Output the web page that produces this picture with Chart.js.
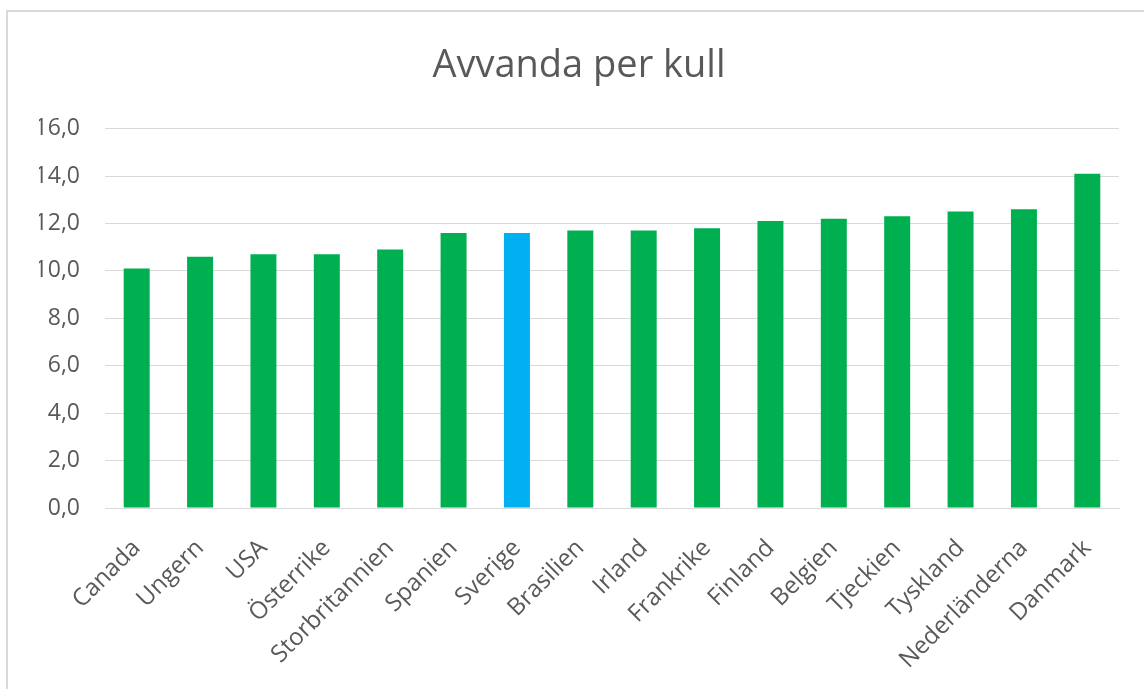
<!DOCTYPE html>
<html>
<head>
<meta charset="utf-8">
<script src="https://cdn.jsdelivr.net/npm/chart.js"></script>
<style>
  html, body { margin: 0; padding: 0; background: #fff; overflow: hidden; }
  #wrap { position: absolute; left: 0; top: 0; width: 1144px; height: 689px; }
  #frame { position: absolute; left: 6px; top: 10px; width: 1200px; height: 720px;
           border: 2px solid #d9d9d9; pointer-events: none; }
</style>
</head>
<body>
<div id="frame"></div>
<div id="wrap"><canvas id="myChart" width="1144" height="689"></canvas></div>
<script>
const countries = ['Canada', 'Ungern', 'USA', 'Österrike', 'Storbritannien', 'Spanien', 'Sverige',
    'Brasilien', 'Irland', 'Frankrike', 'Finland', 'Belgien', 'Tjeckien', 'Tyskland', 'Nederländerna', 'Danmark'];
const values = [10.1, 10.6, 10.7, 10.7, 10.9, 11.6, 11.6, 11.7, 11.7, 11.8, 12.1, 12.2, 12.3, 12.5, 12.6, 14.1];
const yTicks = [0, 2, 4, 6, 8, 10, 12, 14, 16];
const highlighted = 'Sverige';

const green = '#00b050';
const blue = '#00b0f0';
const textColor = '#595959';
const font = '"Open Sans", "Noto Sans", sans-serif';

const ctx = document.getElementById('myChart').getContext('2d');

new Chart(ctx, {
    type: 'bar',
    data: {
        labels: countries,
        datasets: [{
            label: 'Avvanda per kull',
            data: values,
            backgroundColor: countries.map(c => c === highlighted ? blue : green),
            barPercentage: 0.41,
            categoryPercentage: 1
        }]
    },
    options: {
        responsive: false,
        animation: false,
        layout: {
            // left padding keeps the title centred on the framed area like the original
            padding: { left: 39, right: 25, top: 0, bottom: 0 }
        },
        plugins: {
            legend: { display: false },
            tooltip: { enabled: false },
            title: {
                display: true,
                text: 'Avvanda per kull',
                color: textColor,
                font: { family: font, size: 38, weight: 'normal' },
                padding: { top: 43, bottom: 40 }
            }
        },
        scales: {
            x: {
                grid: { display: false, drawTicks: false },
                border: { display: true, color: '#d9d9d9', width: 1 },
                ticks: {
                    color: textColor,
                    font: { family: font, size: 24 },
                    maxRotation: 45,
                    minRotation: 45,
                    autoSkip: false,
                    padding: 26
                },
                afterFit: function(scale) {
                    scale.height = 181;
                }
            },
            y: {
                min: 0,
                max: 16,
                afterBuildTicks: function(scale) {
                    scale.ticks = yTicks.map(v => ({ value: v }));
                },
                grid: { color: '#d9d9d9', lineWidth: 1, drawTicks: false },
                border: { display: false },
                ticks: {
                    color: textColor,
                    font: { family: font, size: 23 },
                    padding: 25,
                    callback: function(value) {
                        return value.toFixed(1).replace('.', ',');
                    }
                },
                afterFit: function(scale) {
                    scale.width = 66;
                }
            }
        }
    }
});
</script>
</body>
</html>
